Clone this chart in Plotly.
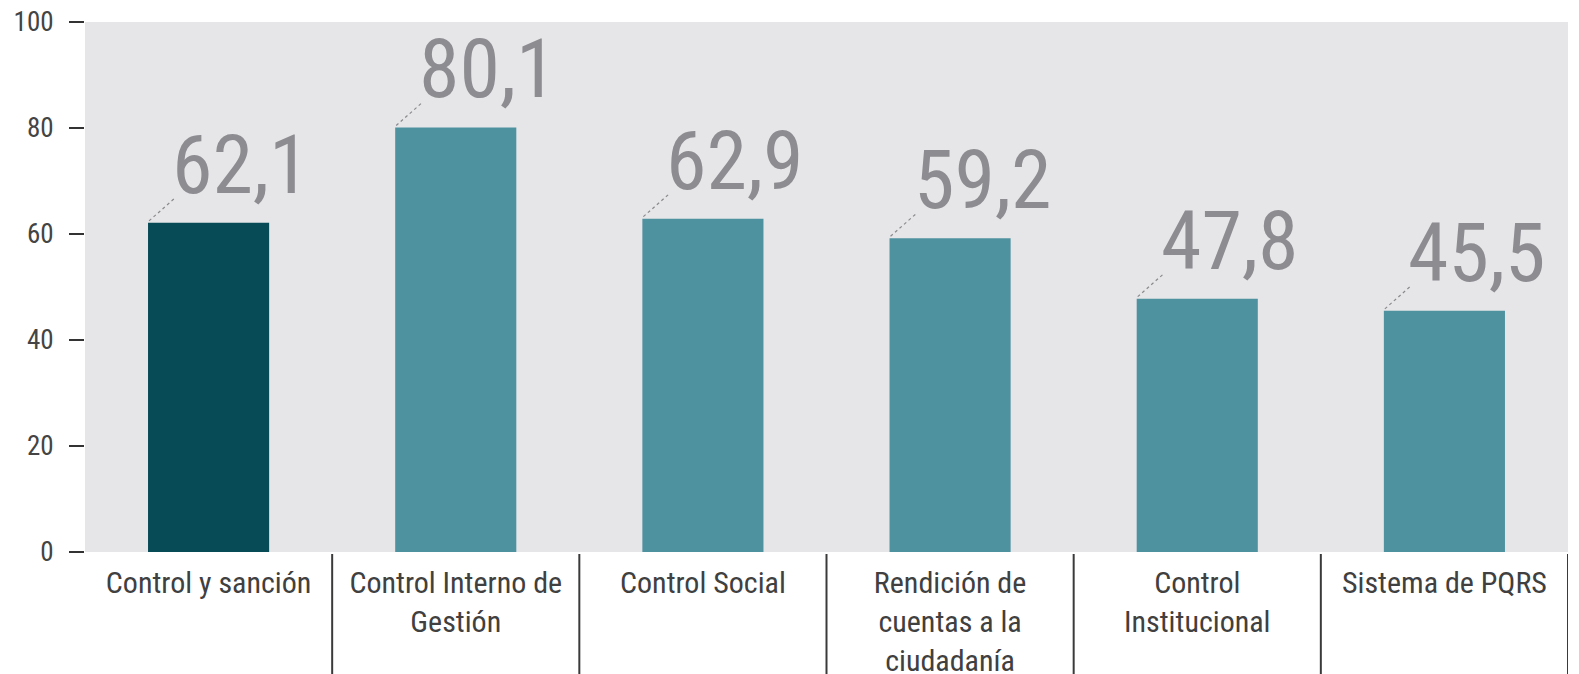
import plotly.graph_objects as go

# Datos
categorias = ["Control y sanción", "Control Interno de<br>Gestión", "Control Social",
              "Rendición de<br>cuentas a la<br>ciudadanía", "Control<br>Institucional",
              "Sistema de PQRS"]
valores = [62.1, 80.1, 62.9, 59.2, 47.8, 45.5]
etiquetas = ["62,1", "80,1", "62,9", "59,2", "47,8", "45,5"]
colores = ["#064b56", "#4f929f", "#4f929f", "#4f929f", "#4f929f", "#4f929f"]
ticks_y = [0, 20, 40, 60, 80, 100]

FUENTE = "Liberation Sans Narrow, Arial Narrow, Roboto Condensed, sans-serif"
ancho_barra = 0.49

fig = go.Figure()
fig.add_trace(go.Bar(x=list(range(len(categorias))), y=valores, marker=dict(color=colores, line=dict(width=0)),
                     width=ancho_barra, hoverinfo="skip"))

# etiquetas grandes con linea guia
for i, (v, t) in enumerate(zip(valores, etiquetas)):
    izq = i - ancho_barra / 2
    fig.add_shape(type="line", xref="x", yref="y", xsizemode="pixel", ysizemode="pixel",
                  xanchor=izq, yanchor=v, x0=1, y0=2, x1=26, y1=24,
                  line=dict(color="#8a8a8e", width=1.2, dash="dot"))
    fig.add_annotation(x=izq, y=v, xref="x", yref="y", text=t, showarrow=False,
                       xanchor="left", yanchor="bottom", xshift=22, yshift=8,
                       font=dict(family=FUENTE, size=82, color="#8d8d91"))

# separadores entre categorias
for k in range(1, len(categorias) + 1):
    fig.add_shape(type="line", xref="x", yref="paper", ysizemode="pixel", yanchor=0,
                  x0=k - 0.5, x1=k - 0.5, y0=-2, y1=-125,
                  line=dict(color="#3a3a3a", width=2))

fig.update_layout(
    width=1579, height=674,
    margin=dict(l=85, r=11, t=22, b=122),
    plot_bgcolor="#e6e6e9", paper_bgcolor="white",
    showlegend=False, bargap=0.5,
)
fig.update_xaxes(tickmode="array", tickvals=list(range(len(categorias))), ticktext=categorias,
                 range=[-0.5, len(categorias) - 0.5], showgrid=False, zeroline=False, ticks="",
                 ticklabelstandoff=10, automargin=False, ticklabeloverflow="allow",
                 tickfont=dict(family=FUENTE, size=30, color="#404040"))
fig.update_yaxes(range=[0, 100], tickvals=ticks_y, showgrid=False, zeroline=False,
                 ticks="outside", ticklen=15, tickwidth=2, tickcolor="#333333",
                 ticklabelstandoff=10, automargin=False, ticklabeloverflow="allow",
                 tickfont=dict(family=FUENTE, size=27, color="#444444"))

# quitar el margen de 8 px que deja la pagina
fig.write_html("out.html", config={"displayModeBar": False},
               post_script="document.body.style.margin='0';")
